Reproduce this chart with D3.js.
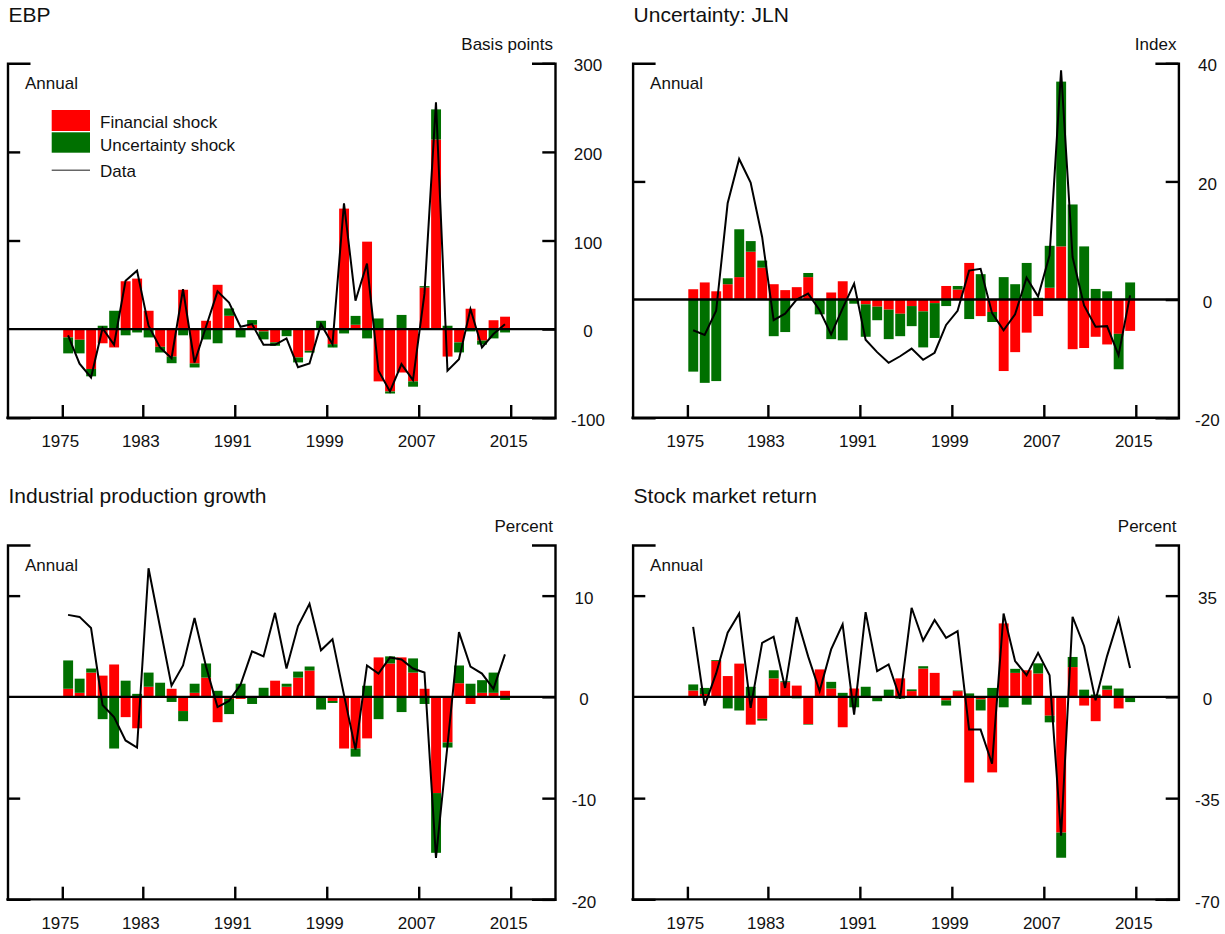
<!DOCTYPE html>
<html>
<head>
<meta charset="utf-8">
<script src="https://cdn.jsdelivr.net/npm/d3@7"></script>
<style>
    body { margin: 0; background: #fff; }
    svg text { font-family: "Liberation Sans", Arial, sans-serif; fill: #111; }
</style>
</head>
<body>
<svg width="1225" height="934"></svg>
<script>
    // annual observations (bars sit between year ticks)
    const years = [1976, 1977, 1978, 1979, 1980, 1981, 1982, 1983, 1984, 1985,
        1986, 1987, 1988, 1989, 1990, 1991, 1992, 1993, 1994, 1995,
        1996, 1997, 1998, 1999, 2000, 2001, 2002, 2003, 2004, 2005,
        2006, 2007, 2008, 2009, 2010, 2011, 2012, 2013, 2014];
    const xTickYears = [1976, 1983, 1991, 1999, 2007, 2015];
    const xTickLabels = ["1975", "1983", "1991", "1999", "2007", "2015"];

    // EBP, basis points
    const ebpFinancial = [-9.4, -12, -45, -16, -20.7, 54, 57, 20.7, -20, -31, 44.4, -38.8, 9.4, 50, 15, 0, 4.9, -2.6, -15, 1, -32, -24.5, 0, -17, 136, 4.9, 98.7, -59, -70.4, -49, -59, 47, 214, -31, -15, 23, -13, 10, 14];
    const ebpUncertainty = [-18, -15.4, -8.3, 3.8, 20.7, -7, -3.8, -9.4, -6.4, -7.5, -7, -4.5, -11.7, -16, 8.3, -9.4, 5.3, -9, -3.8, -8, -5.6, -2, 9.4, -3.8, -4.9, 10, -10.5, 12, -2.3, 16, -6, 1.5, 34, 3.8, -11.3, -2.6, -4.5, -10.5, -3.8];
    const ebpData = [-7, -39, -54.6, 1, -17.7, 54.6, 66, 3.8, -20.7, -32.8, 45, -37.7, 2.6, 42.6, 30, 2.6, 5.6, -17.7, -17.7, -10.5, -43, -38.8, 5.6, -17, 142, 32, 74, -47, -70.4, -39.5, -57.6, 40, 256, -47, -34, 22.6, -20.7, -5.6, 5.6];

    // Uncertainty: JLN, index
    const jlnFinancial = [1.75, 2.9, 1.4, 2.6, 3.8, 8.1, 5.4, 2.6, 1.6, 2.1, 3.8, 0, 1.2, 3.1, 0, -0.8, -1.2, -1.7, -2.4, -1.1, -2.0, -0.6, 2.3, 1.7, 6.2, -2.8, -2.1, -12.1, -8.9, -5.6, -2.8, 2.0, 9.0, -8.4, -8.2, -6.3, -7.6, -5.8, -5.3];
    const jlnUncertainty = [-12.2, -14.1, -13.8, 1.0, 8.1, 1.8, 1.2, -6.2, -5.5, 0, 0.7, -2.5, -6.7, -6.9, -0.7, -5.5, -2.3, -5.0, -3.8, -3.4, -6.1, -5.9, -1.1, 0.6, -3.3, 4.3, -1.7, 3.8, 2.6, 6.2, 0.3, 7.1, 27.9, 16.1, 9.0, 1.8, 1.4, -6.0, 2.9];
    const jlnData = [-5.2, -6.0, -1.9, 16.3, 23.8, 19.8, 10.6, -3.5, -2.4, 0, 1.0, -1.8, -5.9, -1.5, 2.7, -6.8, -8.9, -10.7, -9.6, -8.3, -10.2, -9.0, -4.3, -1.9, 4.9, 5.2, -2.3, -5.2, -2.5, 3.7, 0.5, 7.5, 38.8, 7.2, -1.0, -4.6, -4.5, -9.4, 0.7];

    // Industrial production growth, percent
    const ipFinancial = [0.8, 0.4, 2.4, 2.1, 3.2, -2.0, -3.1, 1.0, 0, 0.8, -1.4, 0.4, 1.9, -2.5, -0.2, -0.2, 0, -0.1, 1.6, 1.0, 1.9, 2.6, 0, -0.4, -5.1, -5.1, -4.1, 3.9, 3.3, 3.9, 2.4, 0.8, -9.5, -4.5, 1.35, -0.7, 0.4, 0.4, 0.6];
    const ipUncertainty = [2.8, 1.4, 0.4, -2.2, -5.1, 1.6, 0.3, 1.4, 1.4, -0.5, -1.0, 0.9, 1.4, 0.6, -1.5, 1.3, -0.7, 0.9, 0, 0.3, 0.6, 0.4, -1.25, -0.2, 0, -0.8, 1.1, -2.2, 0.7, -1.5, 1.4, -0.7, -5.9, -0.5, 1.75, 1.3, 1.25, 2.0, -0.3];
    const ipData = [8.1, 7.9, 6.8, -0.8, -2.0, -4.3, -5.0, 12.7, 6.9, 1.1, 3.1, 7.8, 3.0, -1.0, -0.4, 1.2, 4.5, 4.0, 8.3, 2.8, 7.0, 9.2, 4.6, 5.7, 0.2, -5.2, 3.1, 2.3, 3.9, 3.7, 2.8, 2.4, -15.9, -4.8, 6.4, 3.0, 2.3, 0.8, 4.2];

    // Stock market return, percent
    const stockFinancial = [2.2, 1.0, 12.4, 7.2, 11.5, -9.6, -7.6, 6.4, 5.1, 3.9, -9.4, 9.5, 2.9, -10.5, 2.9, 0, 0, -0.3, 6.4, 2.0, 9.8, 8.3, -1.2, 2.0, -29.6, -0.9, -26.1, 25.4, 8.3, 9.2, 8.1, -6.5, -46.9, 10.3, -3.0, -8.4, 2.5, -4.0, 0];
    const stockUncertainty = [2.1, 2.1, 0.3, -4.0, -4.7, 3.5, -0.6, 2.8, 0.3, -0.5, -0.2, 0, 2.3, 1.4, -3.6, 3.5, -1.5, 2.5, -0.6, 0.6, 0.8, 0, -1.8, 0.2, 1.2, -3.8, 3.1, -3.6, 1.4, -2.7, 3.5, -2.3, -8.7, 3.5, 2.5, 0.8, 1.4, 2.9, -1.8];
    const stockData = [24.2, -3.0, 8.1, 22.2, 28.8, -3.8, 18.7, 20.8, 3.1, 27.6, 14.0, 2.0, 16.4, 25.1, -6.1, 29.3, 8.9, 11.2, -0.6, 30.8, 19.5, 26.6, 20.4, 22.7, -11.3, -11.3, -23.1, 28.8, 12.4, 7.5, 15.2, 7.5, -48.0, 27.7, 17.6, -1.2, 14.1, 27.0, 10.0];

    const panels = [
        { title: "EBP", unit: "Basis points", fin: ebpFinancial, unc: ebpUncertainty, data: ebpData,
          domain: [-100, 300], rightTicks: [300, 200, 100, 0, -100], leftTicks: [200, 100],
          x0: 7.5, y0: 63.3, w: 547.5, labelDx: 33, legend: true },
        { title: "Uncertainty: JLN", unit: "Index", fin: jlnFinancial, unc: jlnUncertainty, data: jlnData,
          domain: [-20, 40], rightTicks: [40, 20, 0, -20], leftTicks: [20],
          x0: 632.6, y0: 63.3, w: 545.8, labelDx: 29 },
        { title: "Industrial production growth", unit: "Percent", fin: ipFinancial, unc: ipUncertainty, data: ipData,
          domain: [-20, 15], rightTicks: [10, 0, -10, -20], leftTicks: [10, -10],
          x0: 7.5, y0: 545, w: 547.5, labelDx: 29 },
        { title: "Stock market return", unit: "Percent", fin: stockFinancial, unc: stockUncertainty, data: stockData,
          domain: [-70, 52.5], rightTicks: [35, 0, -35, -70], leftTicks: [35, -35],
          x0: 632.6, y0: 545, w: 545.8, labelDx: 29 }
    ];

    const height = 354.4;
    const red = "#ff0000", green = "#007000";
    const tickLen = 12.7, bracketLen = 23;

    let svg = d3.select("svg");

    panels.forEach(p => {
        let g = svg.append("g").attr("transform", "translate(" + p.x0 + "," + p.y0 + ")");

        let x = d3.scaleLinear().domain([1976, 2015]).range([54.8, 503.2]);
        let y = d3.scaleLinear().domain(p.domain).range([height, 0]);
        let step = x(1977) - x(1976);

        let rows = years.map((yr, i) => ({ year: yr, fin: p.fin[i], unc: p.unc[i] }));
        let series = d3.stack().keys(["fin", "unc"]).offset(d3.stackOffsetDiverging)(rows);
        let colour = d3.scaleOrdinal().domain(["fin", "unc"]).range([red, green]);

        // stacked shock contributions
        g.append("g").selectAll("g")
            .data(series)
            .enter()
            .append("g")
            .attr("fill", d => colour(d.key))
            .selectAll("rect")
            .data(d => d)
            .enter()
            .append("rect")
            .attr("x", d => x(d.data.year) + 0.9)
            .attr("width", step - 1.6)
            .attr("y", d => y(Math.max(d[0], d[1])))
            .attr("height", d => Math.abs(y(d[0]) - y(d[1])));

        // zero line
        g.append("line")
            .attr("x1", 0).attr("x2", p.w)
            .attr("y1", y(0)).attr("y2", y(0))
            .attr("stroke", "black").attr("stroke-width", 2.4);

        // data line
        let line = d3.line()
            .x((d, i) => x(years[i]) + step / 2)
            .y(d => y(d));
        g.append("path")
            .datum(p.data)
            .attr("fill", "none")
            .attr("stroke", "black")
            .attr("stroke-width", 2)
            .attr("stroke-linejoin", "miter")
            .attr("d", line);

        // left axis (ticks only, inward)
        let leftAxis = d3.axisLeft(y)
            .tickValues(p.leftTicks)
            .tickSizeInner(-tickLen)
            .tickSizeOuter(-bracketLen)
            .tickFormat("");
        g.append("g").call(leftAxis)
            .call(a => a.selectAll("line, path").attr("stroke", "black").attr("stroke-width", 2.4));

        // right axis
        let rightAxis = d3.axisRight(y)
            .tickValues(p.rightTicks)
            .tickSizeInner(-tickLen)
            .tickSizeOuter(-bracketLen)
            .tickFormat(d => String(d));
        g.append("g")
            .attr("transform", "translate(" + p.w + ",0)")
            .call(rightAxis)
            .call(a => a.selectAll("line, path").attr("stroke", "black").attr("stroke-width", 2.4))
            .call(a => a.selectAll("text")
                .attr("x", p.labelDx)
                .attr("dy", "0.45em")
                .attr("text-anchor", "middle")
                .style("font-size", "17px")
                .style("font-family", "'Liberation Sans', Arial, sans-serif")
                .attr("fill", "#111"));

        // bottom frame and year ticks
        g.append("line")
            .attr("x1", -1.2).attr("x2", p.w + 1.2)
            .attr("y1", height).attr("y2", height)
            .attr("stroke", "black").attr("stroke-width", 2.4);

        let bottomAxis = d3.axisBottom(x)
            .tickValues(xTickYears)
            .tickSizeInner(-tickLen)
            .tickSizeOuter(0)
            .tickPadding(17.5)
            .tickFormat((d, i) => xTickLabels[i]);
        g.append("g")
            .attr("transform", "translate(0," + height + ")")
            .call(bottomAxis)
            .call(a => a.select(".domain").remove())
            .call(a => a.selectAll("line").attr("stroke", "black").attr("stroke-width", 2.4))
            .call(a => a.selectAll("text")
                .attr("dx", -2.5)
                .style("font-size", "17px")
                .style("font-family", "'Liberation Sans', Arial, sans-serif")
                .attr("fill", "#111"));

        // titles and labels
        g.append("text")
            .attr("x", 1).attr("y", -41.6)
            .style("font-size", "21px")
            .text(p.title);

        g.append("text")
            .attr("x", p.w - 2).attr("y", -13.3)
            .attr("text-anchor", "end")
            .style("font-size", "17px")
            .text(p.unit);

        g.append("text")
            .attr("x", 17.5).attr("y", 26)
            .style("font-size", "17px")
            .text("Annual");

        if (p.legend) {
            let lg = g.append("g").attr("transform", "translate(44.2,46.7)");
            lg.append("rect").attr("x", 0).attr("y", 0).attr("width", 38.3).attr("height", 21).attr("fill", red);
            lg.append("rect").attr("x", 0).attr("y", 22.3).attr("width", 38.3).attr("height", 20.4).attr("fill", green);
            lg.append("line").attr("x1", 0).attr("x2", 38.3).attr("y1", 60.3).attr("y2", 60.3)
                .attr("stroke", "#666").attr("stroke-width", 1.5);
            lg.append("text").attr("x", 48.3).attr("y", 18.3).style("font-size", "17px").text("Financial shock");
            lg.append("text").attr("x", 48.3).attr("y", 40.7).style("font-size", "17px").text("Uncertainty shock");
            lg.append("text").attr("x", 48.3).attr("y", 66.7).style("font-size", "17px").text("Data");
        }
    });
</script>
</body>
</html>
